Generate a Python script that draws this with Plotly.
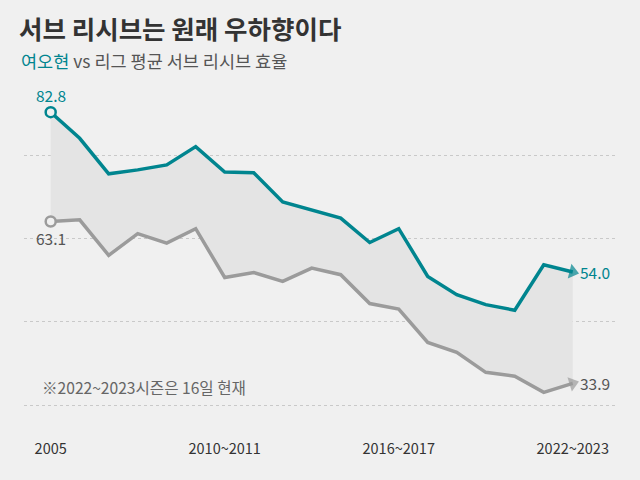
import plotly.graph_objects as go

seasons = ["2005", "2005~2006", "2006~2007", "2007~2008", "2008~2009", "2009~2010",
           "2010~2011", "2011~2012", "2012~2013", "2013~2014", "2014~2015", "2015~2016",
           "2016~2017", "2017~2018", "2018~2019", "2019~2020", "2020~2021", "2021~2022",
           "2022~2023"]
yeo = [82.8, 78.1, 71.7, 72.4, 73.3, 76.6, 72.0, 71.9, 66.6, 65.2, 63.7, 59.3,
       61.8, 53.2, 49.9, 48.1, 47.1, 55.3, 54.0]
league = [63.1, 63.4, 57.0, 60.9, 59.2, 61.8, 53.0, 53.9, 52.3, 54.7, 53.5, 48.3,
          47.3, 41.3, 39.5, 35.9, 35.2, 32.3, 33.9]
tick_labels = ["2005", "2010~2011", "2016~2017", "2022~2023"]
tick_idx = [seasons.index(t) for t in tick_labels]

TEAL = "#00858f"
GRAY = "#9b9b9b"
BG = "#f0f0f0"
TXT = "#555555"
FONT = "Noto Sans CJK KR"

x = list(range(len(seasons)))
n = len(x)

def arrow_spec(color):
    sizes = [0] * (n - 1) + [13]
    return dict(size=sizes, symbol="triangle-up", color=color, angleref="previous",
                line=dict(width=0))

fig = go.Figure()
fig.add_trace(go.Scatter(x=x, y=league, mode="lines", line=dict(color=GRAY, width=3.5),
                         hoverinfo="skip", showlegend=False))
fig.add_trace(go.Scatter(x=x, y=yeo, mode="lines", line=dict(color=TEAL, width=3.5),
                         fill="tonexty", fillcolor="#e4e4e4",
                         hoverinfo="skip", showlegend=False))
# end arrows
fig.add_trace(go.Scatter(x=x, y=league, mode="markers", marker=arrow_spec(GRAY),
                         hoverinfo="skip", showlegend=False))
fig.add_trace(go.Scatter(x=x, y=yeo, mode="markers", marker=arrow_spec(TEAL),
                         hoverinfo="skip", showlegend=False))
# start circles
fig.add_trace(go.Scatter(x=[x[0]], y=[league[0]], mode="markers",
                         marker=dict(size=10, symbol="circle", color=BG,
                                     line=dict(color=GRAY, width=2.5)),
                         hoverinfo="skip", showlegend=False))
fig.add_trace(go.Scatter(x=[x[0]], y=[yeo[0]], mode="markers",
                         marker=dict(size=10, symbol="circle", color=BG,
                                     line=dict(color=TEAL, width=2.5)),
                         hoverinfo="skip", showlegend=False))

annotations = [
    dict(x=x[0], y=yeo[0], text=f"{yeo[0]:.1f}", showarrow=False, yshift=17,
         font=dict(family=FONT, size=15.5, color=TEAL)),
    dict(x=x[0], y=league[0], text=f"{league[0]:.1f}", showarrow=False, yshift=-17,
         font=dict(family=FONT, size=15.5, color=TXT)),
    dict(x=x[-1], y=yeo[-1], text=f"{yeo[-1]:.1f}", showarrow=False, xanchor="left", xshift=5,
         font=dict(family=FONT, size=15.5, color=TEAL)),
    dict(x=x[-1], y=league[-1], text=f"{league[-1]:.1f}", showarrow=False, xanchor="left", xshift=5,
         font=dict(family=FONT, size=15.5, color=TXT)),
    dict(xref="paper", yref="paper", x=(40 - 24) / 594, y=(438 - 387) / 338, xanchor="left",
         yanchor="middle", showarrow=False, text="※2022~2023시즌은 16일 현재",
         font=dict(family=FONT, size=15.6, color="#666666")),
    dict(xref="paper", yref="paper", x=(19 - 24) / 594, y=(438 - 60) / 338, xanchor="left",
         yanchor="middle", showarrow=False,
         text=f"<span style='color:{TEAL}'>여오현</span> vs 리그 평균 서브 리시브 효율",
         font=dict(family=FONT, size=17.5, color=TXT)),
]

fig.update_layout(
    width=640, height=480,
    paper_bgcolor=BG, plot_bgcolor=BG,
    margin=dict(l=24, r=22, t=100, b=42),
    title=dict(text="<b>서브 리시브는 원래 우하향이다</b>", xref="container", yref="container",
               x=19 / 640, y=1 - 30 / 480, xanchor="left", yanchor="middle",
               font=dict(family=FONT, size=25.5, color="#333333")),
    xaxis=dict(range=[-0.92, 19.56], tickvals=tick_idx, ticktext=tick_labels,
               showgrid=False, zeroline=False, showline=False, ticks="",
               tickfont=dict(family=FONT, size=14.5, color="#333333")),
    yaxis=dict(range=[24.06, 85.0], tick0=0, dtick=15, showticklabels=False,
               showgrid=True, gridcolor="#c9c9c9", griddash="dot", gridwidth=1,
               zeroline=False, showline=False),
    annotations=annotations,
)

fig.write_html("out.html", config={"displayModeBar": False},
               post_script="document.body.style.margin='0';")
